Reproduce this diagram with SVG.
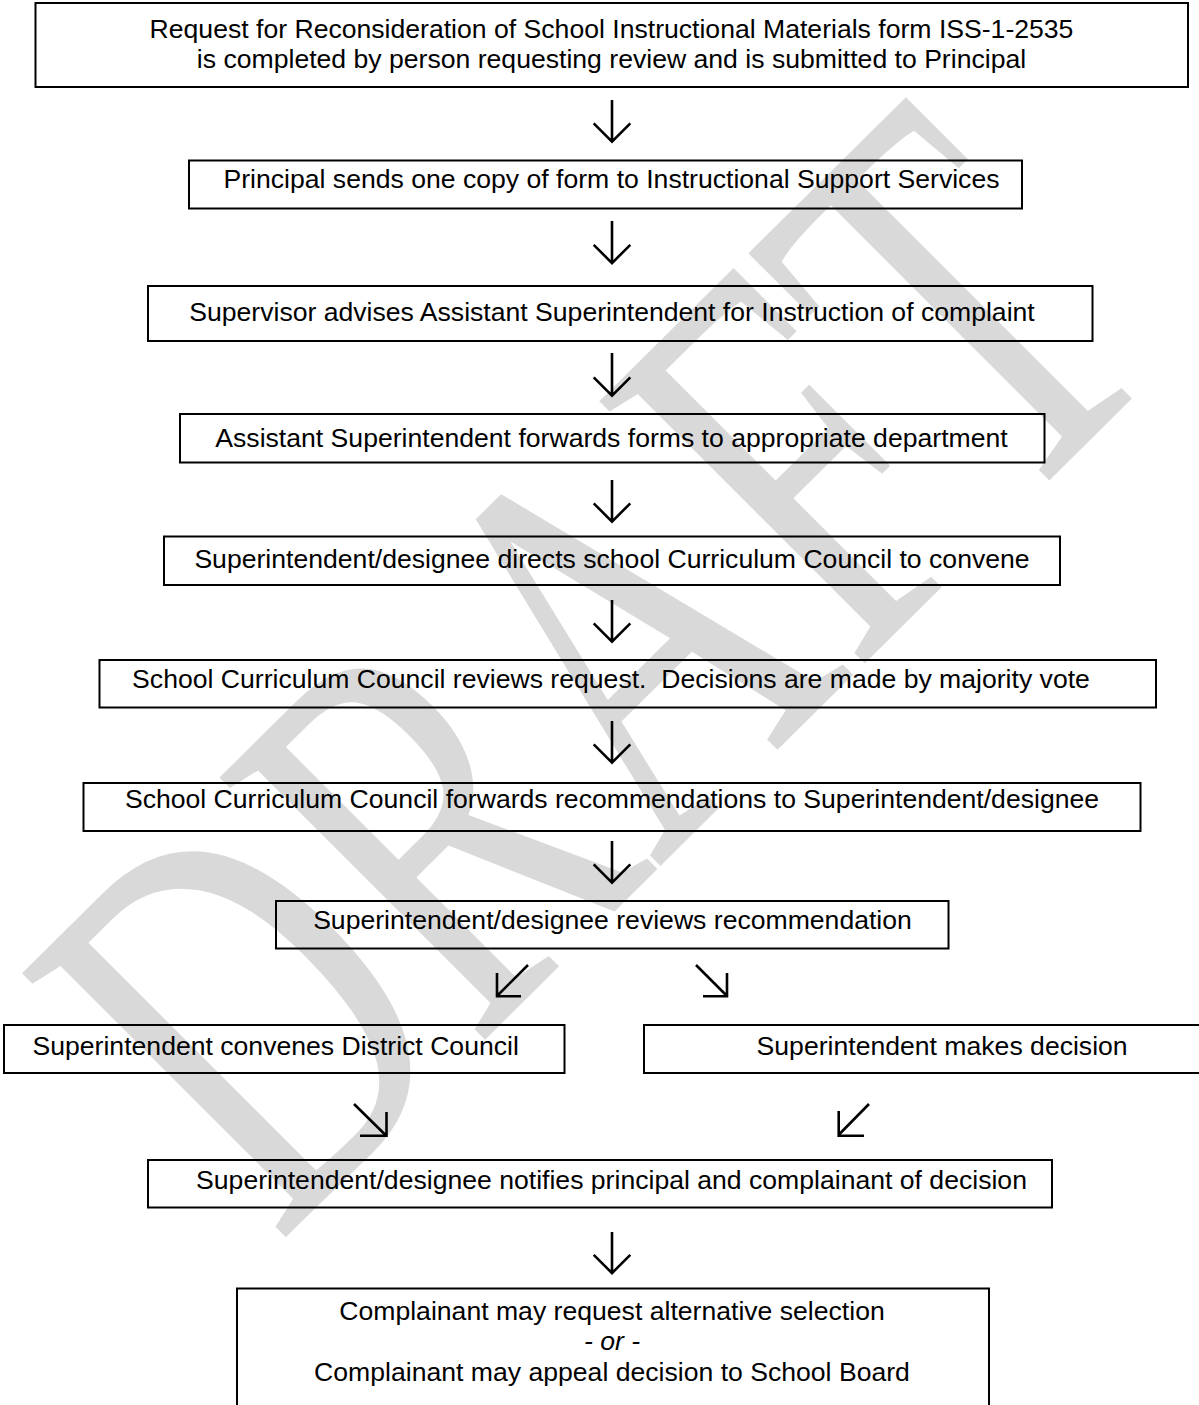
<svg xmlns="http://www.w3.org/2000/svg" width="1199" height="1405" viewBox="0 0 1199 1405">
<style>
.box{fill:none;stroke:#000;stroke-width:2}
.t{font-family:"Liberation Sans",Arial,sans-serif;font-size:26.6px;fill:#000}
.c{text-anchor:middle}
.arr{fill:none;stroke:#000;stroke-width:2.6}
.wm{font-family:"Liberation Serif","Times New Roman",serif;font-size:100px;fill:#d9d9d9}
</style>
<rect width="1199" height="1405" fill="#fff"/>
<g id="watermark"><text class="wm" transform="matrix(2.734 -2.71 4.03 4.03 278 1245)">DRAFT</text></g>
<g id="n1"><rect class="box" x="35.5" y="3" width="1152.5" height="84" style="fill:#fff"/>
<text class="t c" x="611.5" y="37.5">Request for Reconsideration of School Instructional Materials form ISS-1-2535</text>
<text class="t c" x="611.5" y="68">is completed by person requesting review and is submitted to Principal</text></g>
<g id="n2"><rect class="box" x="189" y="160.5" width="833" height="48"/>
<text class="t c" x="611.5" y="188">Principal sends one copy of form to Instructional Support Services</text></g>
<g id="n3"><rect class="box" x="148" y="286" width="944.5" height="55"/>
<text class="t c" x="612" y="320.5">Supervisor advises Assistant Superintendent for Instruction of complaint</text></g>
<g id="n4"><rect class="box" x="180" y="414" width="864.5" height="48.5"/>
<text class="t c" x="611.5" y="447">Assistant Superintendent forwards forms to appropriate department</text></g>
<g id="n5"><rect class="box" x="164" y="536.5" width="896" height="48.5"/>
<text class="t c" x="612" y="568">Superintendent/designee directs school Curriculum Council to convene</text></g>
<g id="n6"><rect class="box" x="99.5" y="660" width="1056.5" height="47.5"/>
<text class="t c" x="611" y="688" xml:space="preserve">School Curriculum Council reviews request.  Decisions are made by majority vote</text></g>
<g id="n7"><rect class="box" x="83.5" y="783" width="1057" height="48"/>
<text class="t c" x="612" y="808">School Curriculum Council forwards recommendations to Superintendent/designee</text></g>
<g id="n8"><rect class="box" x="276" y="901" width="672.5" height="47.5"/>
<text class="t c" x="612.5" y="928.5">Superintendent/designee reviews recommendation</text></g>
<g id="n9"><rect class="box" x="4" y="1025" width="560.5" height="48"/>
<text class="t" x="32.5" y="1055">Superintendent convenes District Council</text></g>
<g id="n10"><rect class="box" x="644" y="1025" width="570" height="48"/>
<text class="t" x="756.6" y="1055">Superintendent makes decision</text></g>
<g id="n11"><rect class="box" x="148" y="1160" width="904" height="47.5"/>
<text class="t c" x="611.5" y="1188.5">Superintendent/designee notifies principal and complainant of decision</text></g>
<g id="n12"><rect class="box" x="237" y="1288.5" width="752" height="140"/>
<text class="t c" x="612" y="1320">Complainant may request alternative selection</text>
<text class="t c" x="612" y="1349.5" font-style="italic">- or -</text>
<text class="t c" x="612" y="1381">Complainant may appeal decision to School Board</text></g>
<g id="connectors" class="arr">
<path d="M612 100V141.5M593.7 123.3L612 141.6L630.3 123.3"/>
<path d="M612 221V263M593.7 244.8L612 263.1L630.3 244.8"/>
<path d="M612 353V395.5M593.7 377.3L612 395.6L630.3 377.3"/>
<path d="M612 480V521.5M593.7 503.3L612 521.6L630.3 503.3"/>
<path d="M612 600V641.5M593.7 623.3L612 641.6L630.3 623.3"/>
<path d="M612 721V762.5M593.7 744.3L612 762.6L630.3 744.3"/>
<path d="M612 841V882.5M593.7 864.3L612 882.6L630.3 864.3"/>
<path d="M612 1232V1273M593.7 1254.8L612 1273.1L630.3 1254.8"/>
<path d="M528 965L497.5 995.5M497 973V996.3H521"/>
<path d="M696 965L726.5 995.5M703 996.3H727V973"/>
<path d="M354 1104L385.5 1135M360 1135.8H386.5V1112"/>
<path d="M869 1104L839 1134.5M838.7 1111V1135.8H864"/>
</g>
</svg>
